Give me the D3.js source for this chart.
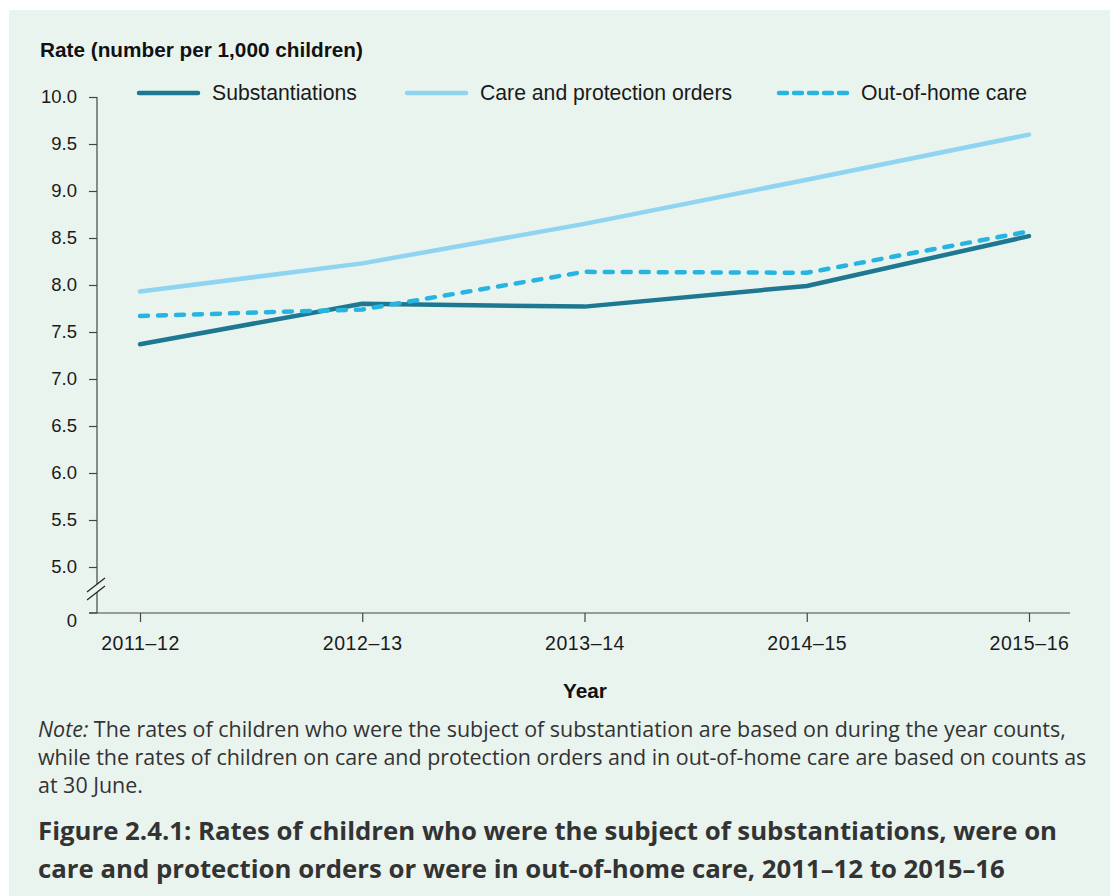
<!DOCTYPE html>
<html><head><meta charset="utf-8">
<script src="https://cdn.jsdelivr.net/npm/d3@7"></script>
<style>
html,body{margin:0;padding:0;background:#fff;}
svg{display:block;}
</style></head>
<body>
<svg id="chart" width="1110" height="896"></svg>
<script>
const years = ["2011\u201312", "2012\u201313", "2013\u201314", "2014\u201315", "2015\u201316"];
const substantiations = [7.37, 7.80, 7.77, 7.99, 8.52];
const careOrders = [7.93, 8.23, 8.65, 9.12, 9.60];
const outOfHome = [7.67, 7.74, 8.14, 8.13, 8.57];
const yTicks = [5.0, 5.5, 6.0, 6.5, 7.0, 7.5, 8.0, 8.5, 9.0, 9.5, 10.0];
const seriesNames = ["Substantiations", "Care and protection orders", "Out-of-home care"];
const seriesColors = ["#1e7891", "#8fd4f0", "#27b4e0"];

const svg = d3.select("#chart");
svg.append("rect").attr("x", 9).attr("y", 10).attr("width", 1101).attr("height", 886).attr("fill", "#eaf4ef");

const x = d3.scalePoint().domain(years).range([140, 1029]);
const y = d3.scaleLinear().domain([5, 10]).range([567, 97]);
const yZero = 613;
const axisX = 97;
const font = "'Liberation Sans', Arial, sans-serif";
const axisColor = "#444";

function fit(sel, w) {
  const cur = sel.node().getComputedTextLength();
  const fs = parseFloat(sel.attr("font-size"));
  sel.attr("font-size", fs * w / cur);
  return fs * w / cur;
}

// Y axis
const yAxis = svg.append("g").attr("transform", `translate(${axisX},0)`)
  .call(d3.axisLeft(y).tickValues(yTicks).tickFormat(d3.format(".1f")).tickSize(8).tickPadding(12));
yAxis.select(".domain").remove();
yAxis.selectAll("line").attr("stroke", axisColor).attr("stroke-width", 1.2);
yAxis.selectAll("text").attr("font-family", font).attr("font-size", 18.5).attr("fill", "#1a1a1a");
svg.append("line").attr("x1", axisX).attr("x2", axisX).attr("y1", y(10)).attr("y2", 584).attr("stroke", axisColor).attr("stroke-width", 1.2);
svg.append("line").attr("x1", axisX).attr("x2", axisX).attr("y1", 592).attr("y2", yZero).attr("stroke", axisColor).attr("stroke-width", 1.2);
svg.append("line").attr("x1", 87).attr("y1", 592).attr("x2", 105).attr("y2", 578).attr("stroke", "#222").attr("stroke-width", 1.2);
svg.append("line").attr("x1", 87).attr("y1", 600).attr("x2", 105).attr("y2", 586).attr("stroke", "#222").attr("stroke-width", 1.2);
svg.append("line").attr("x1", 89).attr("x2", axisX).attr("y1", yZero).attr("y2", yZero).attr("stroke", axisColor).attr("stroke-width", 1.2);
svg.append("text").attr("x", 77).attr("y", yZero + 8).attr("dy", "0.32em").attr("text-anchor", "end")
  .attr("font-family", font).attr("font-size", 18.5).attr("fill", "#1a1a1a").text("0");

// X axis
const xAxis = svg.append("g").attr("transform", `translate(0,${yZero})`)
  .call(d3.axisBottom(x).tickSize(9).tickPadding(14));
xAxis.select(".domain").remove();
xAxis.selectAll("line").attr("stroke", axisColor).attr("stroke-width", 1.2);
xAxis.selectAll("text").attr("font-family", font).attr("font-size", 19.5).attr("fill", "#1a1a1a").attr("letter-spacing", 0.6);
svg.append("line").attr("x1", 89).attr("x2", 1070).attr("y1", yZero).attr("y2", yZero).attr("stroke", axisColor).attr("stroke-width", 1.2);

// Axis titles
const yt = svg.append("text").attr("x", 40).attr("y", 57).attr("font-family", font).attr("font-size", 17).attr("font-weight", "bold")
  .attr("fill", "#111").text("Rate (number per 1,000 children)");
fit(yt, 323);
const xt = svg.append("text").attr("x", 585).attr("y", 698).attr("text-anchor", "middle").attr("font-family", font).attr("font-size", 17).attr("font-weight", "bold")
  .attr("fill", "#111").text("Year");
fit(xt, 44);

// Lines
const line = d3.line().x((d, i) => x(years[i])).y(d => y(d));
const data = [substantiations, careOrders, outOfHome];
[1, 0, 2].forEach(k => {
  svg.append("path").datum(data[k]).attr("d", line).attr("fill", "none")
    .attr("stroke", seriesColors[k]).attr("stroke-width", 4.5).attr("stroke-linecap", "round").attr("stroke-linejoin", "round")
    .attr("stroke-dasharray", k === 2 ? "8,10" : null);
});

// Legend
const legendX = [137, 405, 777];
const legendLen = [63, 63, 72];
seriesNames.forEach((n, k) => {
  svg.append("line").attr("x1", legendX[k] + 2).attr("x2", legendX[k] + legendLen[k] - 2).attr("y1", 93).attr("y2", 93)
    .attr("stroke", seriesColors[k]).attr("stroke-width", 4.5).attr("stroke-linecap", "round")
    .attr("stroke-dasharray", k === 2 ? "8,7" : null);
  svg.append("text").attr("x", legendX[k] + legendLen[k] + 12).attr("y", 93).attr("dy", "0.35em")
    .attr("font-family", font).attr("font-size", 21.2).attr("fill", "#1a1a1a").text(n);
});

// Note
const noteFont = "'Open Sans', sans-serif";
const noteLines = [
  [["Note:", true], [" The rates of children who were the subject of substantiation are based on during the year counts,", false]],
  [["while the rates of children on care and protection orders and in out-of-home care are based on counts as", false]],
  [["at 30 June.", false]]
];
let noteFs = 21;
noteLines.forEach((ln, i) => {
  const t = svg.append("text").attr("x", 38).attr("y", 737 + i * 28).attr("font-family", noteFont).attr("font-size", noteFs).attr("fill", "#333");
  ln.forEach(([s, it]) => t.append("tspan").attr("font-style", it ? "italic" : null).text(s));
  if (i === 0) noteFs = fit(t, 1028);
});
const titleLines = ["Figure 2.4.1: Rates of children who were the subject of substantiations, were on",
  "care and protection orders or were in out-of-home care, 2011\u201312 to 2015\u201316"];
let titleFs = 25;
titleLines.forEach((s, i) => {
  const t = svg.append("text").attr("x", 38).attr("y", 840 + i * 38).attr("font-family", noteFont).attr("font-size", titleFs).attr("font-weight", 700)
    .attr("fill", "#333").text(s);
  if (i === 0) titleFs = fit(t, 1020);
});
</script>
</body></html>
